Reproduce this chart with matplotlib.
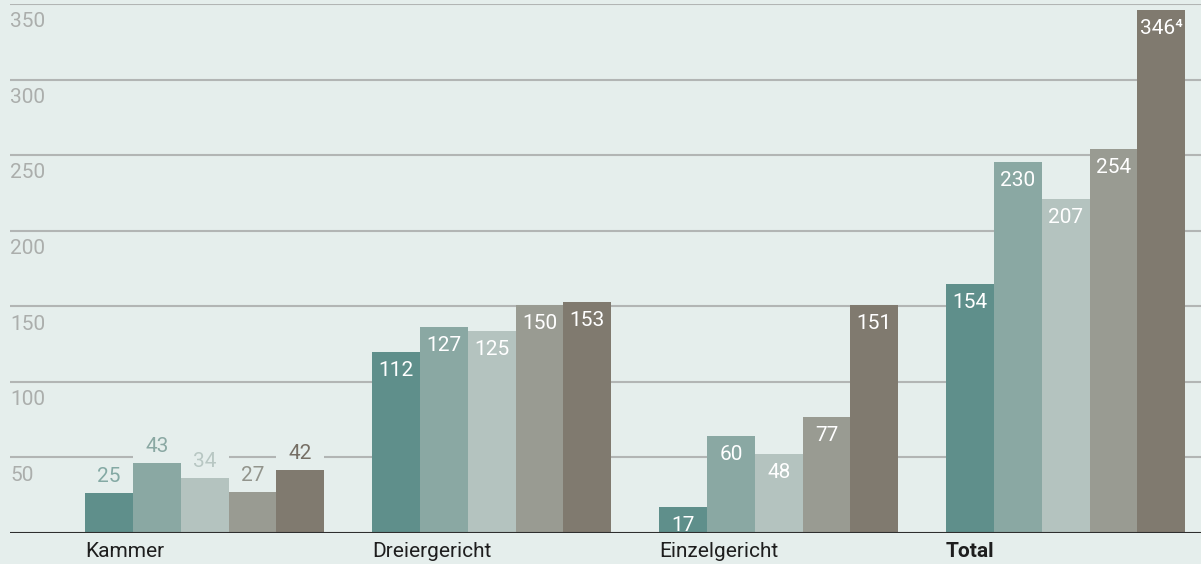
import matplotlib.pyplot as plt
from matplotlib.patches import Rectangle

plt.rcParams['font.family'] = ['Roboto', 'DejaVu Sans']

categories = ["Kammer", "Dreiergericht", "Einzelgericht", "Total"]
# bar heights as drawn in the reference (not exactly to scale there)
heights = [
    [26.5, 120, 17, 165],
    [46.5, 136.5, 64.5, 245.5],
    [36.5, 133.5, 52, 221],
    [27, 151, 77, 254],
    [42, 153, 151, 346],
]
# printed values
value_labels = [
    ["25", "112", "17", "154"],
    ["43", "127", "60", "230"],
    ["34", "125", "48", "207"],
    ["27", "150", "77", "254"],
    ["42", "153", "151", "346\u2074"],
]
yticks = [50, 100, 150, 200, 250, 300, 350]

bg = "#e5eeec"
colors = ["#5f8f8b", "#8aa8a3", "#b4c3bf", "#999b92", "#807a6f"]
outside_colors = ["#84a9a4", "#8aa8a3", "#b8c7c3", "#92948c", "#766f65"]

fig = plt.figure(figsize=(12.01, 5.64), dpi=100, facecolor=bg)
ax = fig.add_axes([10 / 1201, 31 / 564, 1191 / 1201, 529 / 564])
ax.set_facecolor(bg)
ax.set_xlim(-4.07, 20.83)
ax.set_ylim(0, 350)

for v in yticks:
    ax.axhline(v, color="#b2b5b4", lw=1.5, zorder=1)
    ax.annotate(str(v), xy=(0, v), xycoords=("axes fraction", "data"),
                xytext=(0, -6), textcoords="offset points",
                ha="left", va="top", fontsize=15, color="#abaeac")

for j, vals in enumerate(heights):
    for i, v in enumerate(vals):
        x = 6 * i + (j - 2)
        ax.bar(x, v, width=1.0, color=colors[j], zorder=2)
        if i == 0:
            # label above bar, masking the gridline
            ax.add_patch(Rectangle((x - 0.5, v), 1.0, 18, facecolor=bg,
                                   edgecolor="none", zorder=2.5))
            ax.annotate(value_labels[j][i], xy=(x, v), xytext=(0, 5),
                        textcoords="offset points", ha="center", va="bottom",
                        fontsize=15, color=outside_colors[j], zorder=3)
        else:
            ax.annotate(value_labels[j][i], xy=(x, v), xytext=(0, -6.5),
                        textcoords="offset points", ha="center", va="top",
                        fontsize=15, color="white", zorder=3)

ax.axhline(0, color="#2e2e2e", lw=1.5, zorder=4)

for i, cat in enumerate(categories):
    ax.annotate(cat, xy=(6 * i - 2.5, 0), xytext=(0, -6.5),
                textcoords="offset points", ha="left", va="top",
                fontsize=15, color="#1e1e1e",
                fontweight="bold" if cat == "Total" else "normal",
                annotation_clip=False)

for s in ax.spines.values():
    s.set_visible(False)
ax.set_xticks([])
ax.set_yticks([])

fig.savefig("out.png", dpi=100, facecolor=bg)
